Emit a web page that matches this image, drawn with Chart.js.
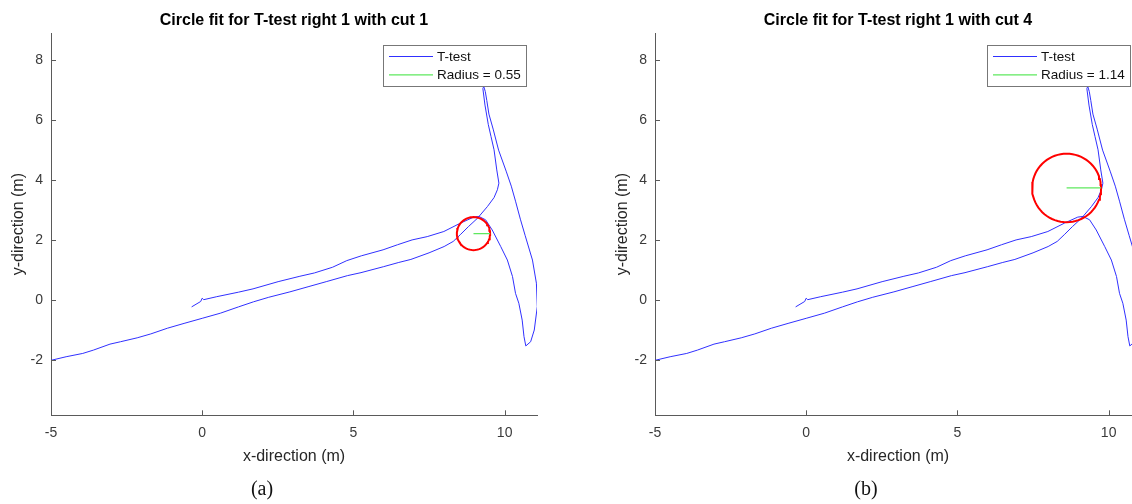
<!DOCTYPE html>
<html>
<head>
<meta charset="utf-8">
<script src="https://cdn.jsdelivr.net/npm/chart.js@4.4.1/dist/chart.umd.min.js"></script>
<style>
  html, body { margin: 0; padding: 0; background: #fff; width: 1132px; height: 504px; overflow: hidden; position: relative; }
  canvas { position: absolute; top: 0; }
  #chartA { left: 0; }
  #chartB { left: 604px; }
  .cap { position: absolute; top: 477px; font-family: "Liberation Serif", serif; font-size: 20px; color: #111; transform: translateX(-50%); }
</style>
</head>
<body>
<canvas id="chartA" width="566" height="504"></canvas>
<canvas id="chartB" width="566" height="504"></canvas>
<div class="cap" style="left:262px">(a)</div>
<div class="cap" style="left:866px">(b)</div>
<script>
// T-test trajectory (same run in both panels)
const pathX = [-5.00, -4.50, -3.95, -3.60, -3.05, -2.70, -2.15, -1.70, -1.15, -0.60, 0.00, 0.60, 1.20, 1.70, 2.20, 2.90, 3.50, 4.10, 4.80, 5.25,
  6.00, 6.50, 6.90, 7.50, 8.00, 8.30, 8.55, 8.80, 9.10, 9.43, 9.65, 9.76, 9.81,
  9.74, 9.65, 9.55, 9.46, 9.35, 9.28, 9.31,
  9.36, 9.41, 9.48, 9.62, 9.80, 10.05, 10.22, 10.36, 10.52, 10.68, 10.92, 11.05, 11.08, 10.98, 10.86, 10.70,
  10.64, 10.58, 10.47, 10.36, 10.26, 10.09, 9.87, 9.59, 9.37, 9.15, 8.98, 8.54, 7.99, 7.44, 6.94, 6.46, 5.98,
  5.26, 4.78, 4.31, 3.71, 3.23, 2.51, 1.68, 1.20, 0.48, 0.05, 0.00, -0.05, -0.35];
const pathY = [-2.00, -1.88, -1.77, -1.66, -1.46, -1.38, -1.25, -1.12, -0.93, -0.77, -0.60, -0.43, -0.22, -0.05, 0.10, 0.28, 0.45, 0.62, 0.82, 0.92,
  1.12, 1.26, 1.36, 1.58, 1.79, 1.96, 2.20, 2.45, 2.73, 3.12, 3.42, 3.68, 3.90,
  4.34, 5.01, 5.45, 5.85, 6.50, 7.05, 7.12,
  6.95, 6.65, 6.20, 5.70, 5.00, 4.30, 3.80, 3.30, 2.70, 2.15, 1.34, 0.57, -0.21, -0.99, -1.38, -1.52,
  -1.21, -0.66, -0.10, 0.23, 0.79, 1.34, 1.79, 2.34, 2.68, 2.79, 2.77, 2.57, 2.29, 2.12, 2.01, 1.85, 1.68,
  1.48, 1.32, 1.10, 0.91, 0.80, 0.62, 0.38, 0.27, 0.12, 0.02, 0.07, -0.04, -0.22];

const xTicks = [-5, 0, 5, 10];
const yTicks = [-2, 0, 2, 4, 6, 8];
const xRange = [-5, 11.07];
const yRange = [-3.83, 8.9];

// one entry per panel
const panelTitles = ['Circle fit for T-test right 1 with cut 1', 'Circle fit for T-test right 1 with cut 4'];
const circleX = [8.97, 8.61];
const circleY = [2.22, 3.74];
const radius = [0.55, 1.14];

const family = '"Liberation Sans", Arial, sans-serif';
const axisColor = '#5a5a5a';
Chart.defaults.font.family = family;

// MATLAB style: ticks point into the plot
const inwardTicks = {
  id: 'inwardTicks',
  afterDraw(chart) {
    const { ctx, chartArea: a, scales: { x, y } } = chart;
    ctx.save();
    ctx.strokeStyle = axisColor;
    ctx.lineWidth = 1;
    ctx.beginPath();
    x.ticks.forEach(t => {
      const px = Math.round(x.getPixelForValue(t.value)) + 0.5;
      ctx.moveTo(px, a.bottom);
      ctx.lineTo(px, a.bottom - 5);
    });
    y.ticks.forEach(t => {
      const py = Math.round(y.getPixelForValue(t.value)) + 0.5;
      ctx.moveTo(a.left, py);
      ctx.lineTo(a.left + 5, py);
    });
    ctx.stroke();
    ctx.restore();
  }
};

// title centred over the axes, not the canvas
const axesTitle = {
  id: 'axesTitle',
  afterDraw(chart, args, opts) {
    const { ctx, chartArea: a } = chart;
    ctx.save();
    ctx.font = 'bold 16px ' + family;
    ctx.fillStyle = '#000';
    ctx.textAlign = 'center';
    ctx.textBaseline = 'middle';
    ctx.fillText(opts.text, (a.left + a.right) / 2, 21);
    ctx.restore();
  }
};

// legend box inside the axes, top right
const boxLegend = {
  id: 'boxLegend',
  afterDraw(chart) {
    const { ctx, chartArea: a } = chart;
    const items = chart.data.datasets.filter(d => d.label);
    ctx.save();
    ctx.font = '13.5px ' + family;
    const textW = Math.max(...items.map(d => ctx.measureText(d.label).width));
    const w = Math.round(6 + 44 + 4 + textW + 5), h = 41;
    const right = Math.round(a.right - 11), left = right - w, top = Math.round(a.top + 12);
    ctx.fillStyle = '#fff';
    ctx.fillRect(left, top, w, h);
    ctx.strokeStyle = '#777';
    ctx.lineWidth = 1;
    ctx.strokeRect(left + 0.5, top + 0.5, w, h);
    items.forEach((d, i) => {
      const cy = top + 11.5 + i * 18.3;
      ctx.strokeStyle = d.borderColor;
      ctx.lineWidth = d.borderWidth;
      ctx.beginPath();
      ctx.moveTo(left + 6, cy);
      ctx.lineTo(left + 50, cy);
      ctx.stroke();
      ctx.fillStyle = '#111';
      ctx.textBaseline = 'middle';
      ctx.fillText(d.label, left + 54, cy + 0.5);
    });
    ctx.restore();
  }
};

function makePanel(canvasId, k) {
  const track = pathX.map((x, i) => ({ x, y: pathY[i] }));
  const ring = [];
  for (let a = 0; a <= 360; a += 5) {
    const t = a * Math.PI / 180;
    ring.push({ x: circleX[k] + radius[k] * Math.cos(t), y: circleY[k] + radius[k] * Math.sin(t) });
  }
  const spoke = [{ x: circleX[k], y: circleY[k] }, { x: circleX[k] + radius[k], y: circleY[k] }];

  return new Chart(document.getElementById(canvasId), {
    type: 'scatter',
    data: {
      datasets: [
        { label: 'T-test', data: track, showLine: true, borderColor: '#3030ff', borderWidth: 1, pointRadius: 0, tension: 0, order: 3 },
        { label: 'Radius = ' + radius[k].toFixed(2), data: spoke, showLine: true, borderColor: '#5ee85e', borderWidth: 1.3, pointRadius: 0, order: 1 },
        { label: '', data: ring, showLine: true, borderColor: '#ff0000', borderWidth: 2, pointRadius: 0, tension: 0, order: 2 }
      ]
    },
    options: {
      responsive: false,
      animation: false,
      devicePixelRatio: 1,
      layout: { padding: { top: 33, left: 0, right: 29, bottom: 0 } },
      plugins: {
        legend: { display: false },
        title: { display: false },
        tooltip: { enabled: false },
        axesTitle: { text: panelTitles[k] }
      },
      scales: {
        x: {
          type: 'linear',
          min: xRange[0],
          max: xRange[1],
          afterBuildTicks: s => { s.ticks = xTicks.map(v => ({ value: v })); },
          afterFit: s => { s.height = 88.7; },
          grid: { display: false, drawTicks: false },
          border: { display: true, color: axisColor, width: 1 },
          ticks: { color: '#3a3a3a', font: { size: 14 }, padding: 9, maxRotation: 0, callback: v => String(v) },
          title: { display: true, text: 'x-direction (m)', color: '#262626', font: { size: 16 }, padding: { top: 0, bottom: 38 } }
        },
        y: {
          type: 'linear',
          min: yRange[0],
          max: yRange[1],
          afterBuildTicks: s => { s.ticks = yTicks.map(v => ({ value: v })); },
          afterFit: s => { s.width = 51; },
          grid: { display: false, drawTicks: false },
          border: { display: true, color: axisColor, width: 1 },
          ticks: { color: '#3a3a3a', font: { size: 14 }, padding: 8, callback: v => String(v) },
          title: { display: true, text: 'y-direction (m)', color: '#262626', font: { size: 16 }, padding: { top: 9, bottom: 0 } }
        }
      }
    },
    plugins: [inwardTicks, axesTitle, boxLegend]
  });
}

makePanel('chartA', 0);
makePanel('chartB', 1);
</script>
</body>
</html>
